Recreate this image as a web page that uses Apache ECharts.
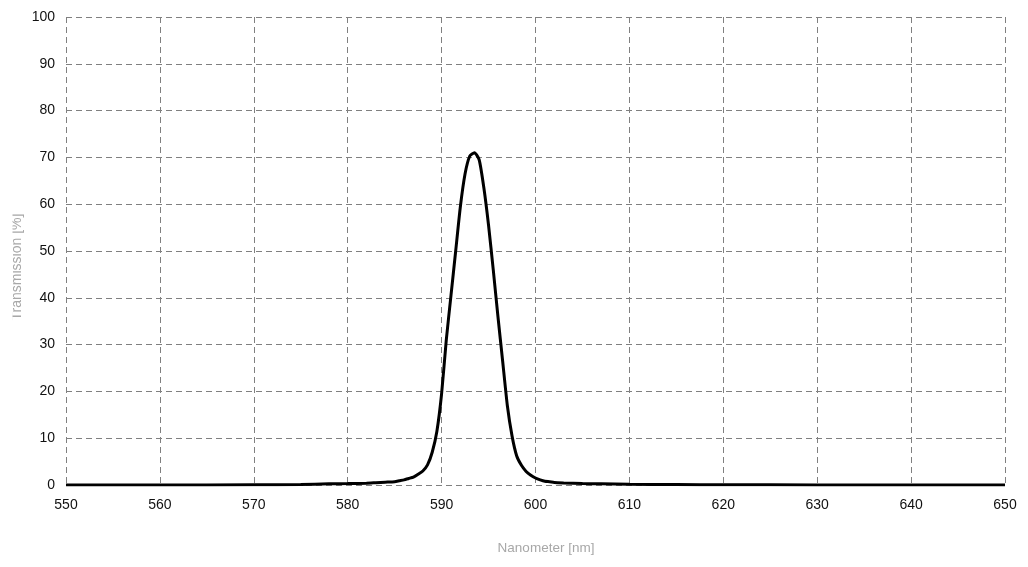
<!DOCTYPE html>
<html>
<head>
<meta charset="utf-8">
<script src="https://cdn.jsdelivr.net/npm/echarts@6/dist/echarts.min.js"></script>
<style>
html,body{margin:0;padding:0;background:#fff;}
#chart{width:1028px;height:567px;}
</style>
</head>
<body>
<div id="chart"></div>
<script>
// Wavelength (nm)
const wavelengths = [550, 560, 570, 575, 578, 580, 582, 583, 584, 585, 585.5, 586, 586.5, 587, 587.5, 588, 588.5, 589, 589.5, 590, 590.5, 591, 591.5, 592, 592.5, 593, 593.5, 594, 594.5, 595, 595.5, 596, 596.5, 597, 597.5, 598, 598.5, 599, 599.5, 600, 600.5, 601, 601.5, 602, 603, 605, 607, 610, 615, 620, 630, 640, 650];
// Transmission (%)
const transmission = [0, 0, 0.05, 0.1, 0.25, 0.3, 0.4, 0.5, 0.6, 0.7, 0.9, 1.1, 1.4, 1.7, 2.3, 3.0, 4.3, 7.0, 11.5, 19.5, 31, 40.5, 50, 59.5, 66.5, 70.3, 71, 69.5, 63.5, 55.5, 46, 36, 26.5, 17, 10.5, 6.2, 4.2, 2.9, 2.1, 1.5, 1.1, 0.8, 0.7, 0.55, 0.45, 0.3, 0.25, 0.15, 0.1, 0.05, 0.02, 0, 0];
const xTicks = [550, 560, 570, 580, 590, 600, 610, 620, 630, 640, 650];
const yTicks = [0, 10, 20, 30, 40, 50, 60, 70, 80, 90, 100];
const xTitle = 'Nanometer [nm]';
const yTitle = 'Transmission [%]';

const chart = echarts.init(document.getElementById('chart'));
const gridLine = {show: true, lineStyle: {color: '#808080', width: 1, type: [6, 4]}};
chart.setOption({
  animation: false,
  backgroundColor: '#fff',
  grid: {left: 66, right: 23, top: 17, bottom: 82, containLabel: false},
  xAxis: {
    type: 'value', min: xTicks[0], max: xTicks[xTicks.length - 1], interval: 10,
    axisLine: {show: false}, axisTick: {show: false},
    axisLabel: {color: '#111', fontFamily: 'Liberation Sans', fontSize: 14, margin: 13},
    splitLine: gridLine
  },
  yAxis: {
    type: 'value', min: yTicks[0], max: yTicks[yTicks.length - 1], interval: 10,
    axisLine: {show: false}, axisTick: {show: false},
    axisLabel: {color: '#111', fontFamily: 'Liberation Sans', fontSize: 14, margin: 11},
    splitLine: gridLine
  },
  graphic: [
    {type: 'text', x: 546, y: 548, style: {text: xTitle, fill: '#a8a8a8', font: '13.5px "Liberation Sans"', align: 'center', verticalAlign: 'middle'}},
    {type: 'text', x: 17, y: 267, rotation: Math.PI / 2, z: 1, style: {text: yTitle, fill: '#a8a8a8', font: '14px "Liberation Sans"', align: 'center', verticalAlign: 'middle'}},
    {type: 'rect', shape: {x: 0, y: 190, width: 12.5, height: 150}, z: 2, style: {fill: '#fff'}}
  ],
  series: [{
    type: 'line',
    data: wavelengths.map((w, i) => [w, transmission[i]]),
    showSymbol: false,
    smooth: 0.2,
    lineStyle: {color: '#000', width: 3},
    z: 5
  }]
});
</script>
</body>
</html>
